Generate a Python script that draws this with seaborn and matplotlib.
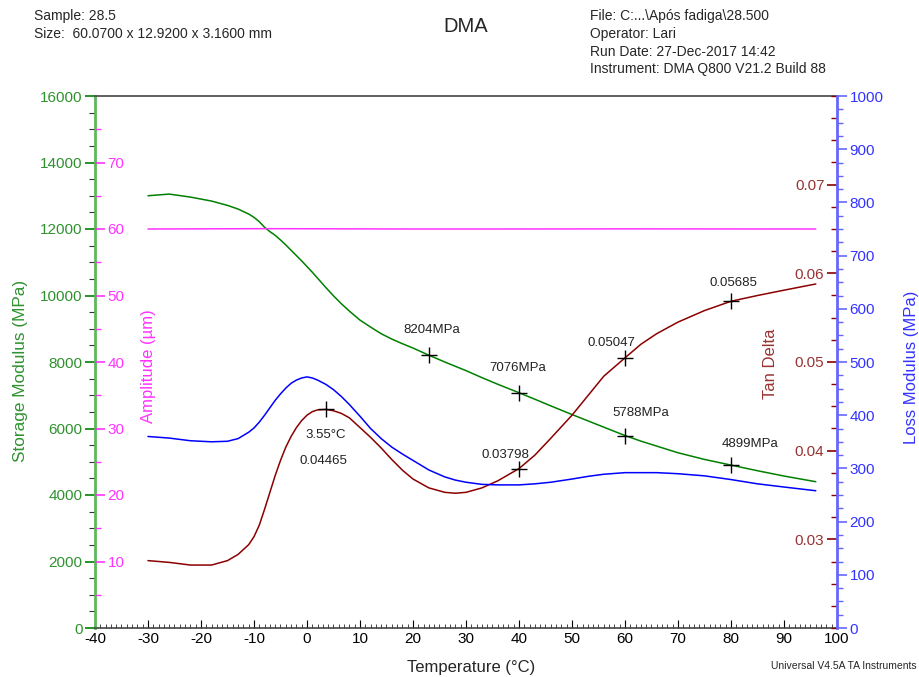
import matplotlib
matplotlib.use("Agg")
import matplotlib.pyplot as plt
import seaborn as sns
from matplotlib.ticker import MultipleLocator, FixedLocator

# DMA sweep
temperature = [-30, -26, -22, -18, -15, -13, -11, -10, -9, -8, -7, -6, -5, -4, -3, -2,
               -1, 0, 1, 2, 3.55, 5, 6.5, 8, 10, 12, 14, 16, 18, 20, 23, 26, 28, 30,
               33, 36, 40, 43, 46, 50, 53, 56, 60, 63, 66, 70, 75, 80, 85, 90, 96]
storage_modulus = [13000, 13050, 12960, 12840, 12710, 12600, 12450, 12350, 12220, 12050,
                   11920, 11810, 11670, 11520, 11360, 11200, 11040, 10870, 10700, 10520,
                   10240, 9990, 9750, 9530, 9260, 9050, 8850, 8690, 8550, 8420, 8204,
                   8000, 7870, 7740, 7530, 7330, 7076, 6880, 6680, 6420, 6230, 6040,
                   5788, 5620, 5470, 5270, 5070, 4899, 4730, 4570, 4400]
tan_delta = [0.0276, 0.0274, 0.0271, 0.0271, 0.0276, 0.0283, 0.0294, 0.0303, 0.0316,
             0.0334, 0.0353, 0.0372, 0.0389, 0.0404, 0.0416, 0.0426, 0.0434, 0.0440,
             0.0444, 0.0446, 0.04465, 0.0445, 0.0442, 0.0437, 0.0426, 0.0415, 0.0403,
             0.0390, 0.0378, 0.0368, 0.0358, 0.0353, 0.0352, 0.0353, 0.0358, 0.0366,
             0.03798, 0.0395, 0.0414, 0.0440, 0.0462, 0.0484, 0.05047, 0.0520, 0.0532,
             0.0545, 0.0558, 0.05685, 0.0575, 0.0581, 0.0588]
loss_modulus = [360, 357, 352, 350, 351, 356, 368, 376, 387, 400, 414, 428, 440, 451,
                460, 466, 470, 472, 470, 466, 458, 448, 435, 420, 398, 375, 356, 340,
                327, 315, 297, 284, 278, 274, 270, 269, 269, 271, 274, 280, 285, 289,
                292, 292, 292, 290, 286, 279, 271, 265, 258]
amp_temperature = [-30, -8, 20, 35, 60, 96]
amplitude = [60.0, 60.05, 60.0, 60.0, 60.02, 60.0]

storage_mark_t = [23.0, 40, 60, 80]
storage_mark_v = [8204, 7076, 5788, 4899]
tan_mark_t = [3.55, 40, 60, 80]
tan_mark_v = [0.04465, 0.03798, 0.05047, 0.05685]

GREEN, GREEN_TXT, GREEN_SP = "#008000", "#2f922f", "#5cb85c"
MAG = "#ff33ff"
RED, RED_TXT = "#8b0000", "#993333"
BLUE, BLUE_TXT, BLUE_SP = "#0000ff", "#3333ff", "#6666ff"

sns.set_style("white")
plt.rcParams["font.family"] = ["Liberation Sans", "DejaVu Sans"]
plt.rcParams["axes.unicode_minus"] = False

fig = plt.figure(figsize=(9.2, 6.77), dpi=100)
ax = fig.add_axes([95 / 920, 1 - 628 / 677, 742 / 920, 532 / 677])
ax_amp = ax.twinx()
ax_tan = ax.twinx()
ax_loss = ax.twinx()

lw = 1.1
sns.lineplot(x=temperature, y=storage_modulus, ax=ax, color=GREEN, lw=lw)
sns.lineplot(x=amp_temperature, y=amplitude, ax=ax_amp, color=MAG, lw=lw)
sns.lineplot(x=temperature, y=tan_delta, ax=ax_tan, color=RED, lw=lw)
sns.lineplot(x=temperature, y=loss_modulus, ax=ax_loss, color=BLUE, lw=lw)

sns.scatterplot(x=storage_mark_t, y=storage_mark_v, ax=ax, marker="+", s=140,
                color="black", linewidth=1, zorder=5)
sns.scatterplot(x=tan_mark_t, y=tan_mark_v, ax=ax_tan, marker="+", s=140,
                color="black", linewidth=1, zorder=5)

# marker labels
lab_kw = dict(textcoords="offset pixels", ha="center", va="center", fontsize=9.5,
              color="#222222")
for t, v, off in zip(storage_mark_t, storage_mark_v,
                     [(3, 25), (-1, 25), (16, 23), (19, 21)]):
    ax.annotate(f"{v}MPa", (t, v), xytext=off, **lab_kw)
for t, v, off in zip(tan_mark_t[1:], tan_mark_v[1:], [(-14, 14), (-14, 15), (2, 18)]):
    ax_tan.annotate(f"{v:.5f}", (t, v), xytext=off, **lab_kw)
ax_tan.annotate(f"{tan_mark_t[0]}°C", (tan_mark_t[0], tan_mark_v[0]), xytext=(0, -26), **lab_kw)
ax_tan.annotate(f"{tan_mark_v[0]:.5f}", (tan_mark_t[0], tan_mark_v[0]), xytext=(-2, -52), **lab_kw)

# x axis
ax.set_xlim(-40, 100)
ax.xaxis.set_major_locator(MultipleLocator(10))
ax.xaxis.set_minor_locator(MultipleLocator(1))
ax.tick_params(axis="x", which="major", direction="in", length=6, width=0.8,
               labelsize=11, pad=3, colors="black", bottom=True)
ax.tick_params(axis="x", which="minor", direction="in", length=3, width=0.6, bottom=True)
ax.set_xlabel("Temperature (°C)", fontsize=12)
ax.xaxis.label.set_va("center")
ax.xaxis.set_label_coords(0.507, -0.075)

# storage modulus (left)
ax.set_ylim(0, 16000)
ax.yaxis.set_major_locator(MultipleLocator(2000))
ax.yaxis.set_minor_locator(MultipleLocator(500))
ax.tick_params(axis="y", which="major", direction="out", length=7, width=1.2,
               color=GREEN, labelcolor=GREEN_TXT, labelsize=11, pad=2, left=True)
ax.tick_params(axis="y", which="minor", direction="out", length=4, width=0.8,
               color="#333333", left=True)
ax.set_ylabel("Storage Modulus (MPa)", color=GREEN_TXT, fontsize=12.4)
ax.yaxis.label.set_va("center")
ax.yaxis.set_label_coords(-0.101, 0.483)

# amplitude (ticks sit inside the left spine)
ax_amp.set_ylim(0, 80)
ax_amp.spines["right"].set_position(("axes", 0))
ax_amp.yaxis.set_major_locator(FixedLocator([10, 20, 30, 40, 50, 60, 70]))
ax_amp.yaxis.set_minor_locator(FixedLocator([5, 15, 25, 35, 45, 55, 65, 75]))
ax_amp.tick_params(axis="y", which="major", direction="out", length=7, width=1.2,
                   colors=MAG, labelsize=11, pad=2)
ax_amp.tick_params(axis="y", which="minor", direction="out", length=4, width=1, colors=MAG)
ax_amp.set_ylabel("Amplitude (µm)", color=MAG, fontsize=12)
ax_amp.yaxis.label.set_va("center")
ax_amp.yaxis.set_label_coords(0.072, 0.493)

# tan delta (ticks sit inside the right spine)
ax_tan.set_ylim(0.02, 0.08)
ax_tan.yaxis.tick_left()
ax_tan.yaxis.set_label_position("left")
ax_tan.spines["left"].set_position(("axes", 1.0))
ax_tan.yaxis.set_major_locator(FixedLocator([0.03, 0.04, 0.05, 0.06, 0.07]))
ax_tan.yaxis.set_minor_locator(MultipleLocator(0.0025))
ax_tan.tick_params(axis="y", which="major", direction="out", length=7, width=1.2,
                   color=RED, labelcolor=RED_TXT, labelsize=11, pad=2)
ax_tan.tick_params(axis="y", which="minor", direction="out", length=4, width=1, color=RED)
ax_tan.set_ylabel("Tan Delta", color=RED_TXT, fontsize=12)
ax_tan.yaxis.label.set_va("center")
ax_tan.yaxis.set_label_coords(0.911, 0.497)

# loss modulus (right)
ax_loss.set_ylim(0, 1000)
ax_loss.yaxis.set_major_locator(MultipleLocator(100))
ax_loss.yaxis.set_minor_locator(MultipleLocator(25))
ax_loss.tick_params(axis="y", which="major", direction="out", length=7, width=1.2,
                    color=BLUE_SP, labelcolor=BLUE_TXT, labelsize=11, pad=2, right=True)
ax_loss.tick_params(axis="y", which="minor", direction="out", length=4, width=1,
                    color=BLUE_SP, right=True)
ax_loss.set_ylabel("Loss Modulus (MPa)", color=BLUE_TXT, fontsize=12)
ax_loss.yaxis.label.set_va("center")
ax_loss.yaxis.set_label_coords(1.101, 0.49)

# spines
for a in (ax_amp, ax_tan, ax_loss):
    for s in a.spines.values():
        s.set_visible(False)
for s in ("top", "bottom"):
    ax.spines[s].set_color("#444444")
    ax.spines[s].set_linewidth(1.2)
ax.spines["left"].set_color(GREEN_SP)
ax.spines["left"].set_linewidth(2)
ax.spines["right"].set_visible(False)
ax_loss.spines["right"].set_visible(True)
ax_loss.spines["right"].set_color(BLUE_SP)
ax_loss.spines["right"].set_linewidth(2)

# header / footer
hdr = dict(fontsize=10, va="top", ha="left")
fig.text(34 / 920, 1 - 9 / 677, "Sample: 28.5", **hdr)
fig.text(34 / 920, 1 - 27 / 677, "Size:  60.0700 x 12.9200 x 3.1600 mm", **hdr)
fig.text(590 / 920, 1 - 9 / 677, "File: C:...\\Após fadiga\\28.500", **hdr)
fig.text(590 / 920, 1 - 27 / 677, "Operator: Lari", **hdr)
fig.text(590 / 920, 1 - 45 / 677, "Run Date: 27-Dec-2017 14:42", **hdr)
fig.text(590 / 920, 1 - 62 / 677, "Instrument: DMA Q800 V21.2 Build 88", **hdr)
fig.text(466 / 920, 1 - 27 / 677, "DMA", fontsize=14.5, ha="center", va="center")
fig.text(917 / 920, 1 - 666 / 677, "Universal V4.5A TA Instruments", fontsize=7.5,
         ha="right", va="center")

fig.savefig("out.png", dpi=100)
